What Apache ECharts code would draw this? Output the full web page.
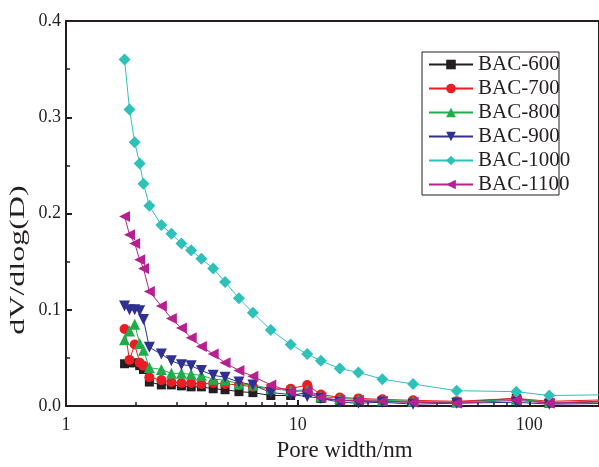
<!DOCTYPE html>
<html>
<head>
<meta charset="utf-8">
<script src="https://cdn.jsdelivr.net/npm/echarts@6/dist/echarts.min.js"></script>
<style>
html,body{margin:0;padding:0;background:#fff}
#main{width:599px;height:467px}
</style>
</head>
<body>
<div id="main"></div>
<script>
// pore width (nm), shared by all samples
var poreWidth = [1.79, 1.88, 1.98, 2.08, 2.16, 2.29, 2.58, 2.85, 3.15, 3.47, 3.84, 4.32, 4.86, 5.58, 6.41, 7.66, 9.33, 11.0, 12.6, 15.2, 18.3, 23.2, 31.5, 48.6, 87.9, 122, 260];

var bac600  = [0.044, 0.045, 0.045, 0.042, 0.038, 0.025, 0.022, 0.022, 0.021, 0.020, 0.020, 0.018, 0.017, 0.015, 0.014, 0.011, 0.011, 0.014, 0.008, 0.006, 0.005, 0.005, 0.004, 0.004, 0.008, 0.003, 0.005];
var bac700  = [0.080, 0.048, 0.064, 0.045, 0.042, 0.030, 0.027, 0.025, 0.024, 0.024, 0.023, 0.024, 0.023, 0.022, 0.020, 0.018, 0.018, 0.022, 0.012, 0.009, 0.008, 0.007, 0.006, 0.005, 0.008, 0.005, 0.007];
var bac800  = [0.069, 0.078, 0.085, 0.065, 0.058, 0.040, 0.038, 0.034, 0.034, 0.033, 0.032, 0.028, 0.027, 0.023, 0.022, 0.018, 0.016, 0.017, 0.010, 0.008, 0.007, 0.006, 0.005, 0.004, 0.007, 0.004, 0.005];
var bac900  = [0.104, 0.100, 0.100, 0.099, 0.090, 0.061, 0.054, 0.047, 0.043, 0.042, 0.037, 0.032, 0.030, 0.025, 0.022, 0.014, 0.012, 0.010, 0.008, 0.004, 0.003, 0.004, 0.002, 0.003, 0.004, 0.002, 0.003];
var bac1000 = [0.360, 0.308, 0.274, 0.252, 0.231, 0.208, 0.188, 0.179, 0.169, 0.162, 0.153, 0.143, 0.129, 0.112, 0.097, 0.079, 0.064, 0.054, 0.047, 0.039, 0.035, 0.028, 0.023, 0.016, 0.015, 0.011, 0.012];
var bac1100 = [0.197, 0.178, 0.169, 0.152, 0.143, 0.119, 0.104, 0.091, 0.081, 0.071, 0.062, 0.054, 0.045, 0.037, 0.031, 0.022, 0.015, 0.016, 0.009, 0.006, 0.006, 0.005, 0.004, 0.003, 0.006, 0.003, 0.006];

var seriesNames = ['BAC-600', 'BAC-700', 'BAC-800', 'BAC-900', 'BAC-1000', 'BAC-1100'];
var xLabelValues = [1, 10, 100];
var xMinorTicks = [2, 3, 4, 5, 6, 7, 8, 9, 20, 30, 40, 50, 60, 70, 80, 90];

var allValues = [bac600, bac700, bac800, bac900, bac1000, bac1100];
var colors = ['#231f20', '#ed1c24', '#1fad4b', '#2e3192', '#2ec1b9', '#b5218e'];
var symbols = ['rect', 'circle', 'triangle', 'triangle', 'diamond', 'triangle'];
var rotates = [0, 0, 0, 180, 0, 90];
var sizes = [9, 10, 11, 11, 12, 11];

var ink = '#231f20';
var font = 'Liberation Serif';

var myChart = echarts.init(document.getElementById('main'));

var series = seriesNames.map(function (name, i) {
	return {
		name: name,
		type: 'line',
		xAxisIndex: 0,
		data: poreWidth.map(function (x, k) { return [x, allValues[i][k]]; }),
		symbol: symbols[i],
		symbolRotate: rotates[i],
		symbolSize: sizes[i],
		showAllSymbol: true,
		clip: true,
		color: colors[i],
		itemStyle: { color: colors[i] },
		lineStyle: { color: colors[i], width: 1 },
		emphasis: { disabled: true },
		animation: false
	};
});

var option = {
	animation: false,
	grid: {
		left: 66, top: 21, right: -3, bottom: 58,
		show: true, borderColor: ink, borderWidth: 2, backgroundColor: 'transparent'
	},
	legend: {
		orient: 'vertical',
		left: 428, top: 54,
		padding: 0,
		itemWidth: 44, itemHeight: 12, itemGap: 3,
		textStyle: { fontFamily: font, fontSize: 21, color: ink },
		data: seriesNames
	},
	xAxis: [{
		type: 'log', logBase: 10, min: 1, max: 200,
		name: 'Pore width/nm', nameLocation: 'middle', nameGap: 30,
		nameTextStyle: { fontFamily: font, fontSize: 23, color: ink, padding: [0, 0, 0, 24] },
		axisLine: { lineStyle: { color: ink, width: 2 } },
		axisTick: { show: true, inside: true, length: 6, lineStyle: { color: ink, width: 2 } },
		axisLabel: { customValues: xLabelValues, margin: 10, fontFamily: font, fontSize: 18, color: ink },
		splitLine: { show: false },
		minorTick: { show: false }
	}, {
		// minor ticks at 2..9, 20..90
		type: 'log', logBase: 10, min: 1, max: 200, position: 'bottom',
		axisLine: { show: false },
		axisTick: { show: true, inside: true, length: 4, customValues: xMinorTicks, lineStyle: { color: ink, width: 1.5 } },
		axisLabel: { show: false },
		splitLine: { show: false }
	}],
	yAxis: {
		type: 'value', min: 0, max: 0.4, interval: 0.1,
		axisLine: { show: true, lineStyle: { color: ink, width: 2 } },
		axisTick: { show: true, inside: true, length: 6, lineStyle: { color: ink, width: 2 } },
		minorTick: { show: true, splitNumber: 2, length: 4, lineStyle: { color: ink, width: 1.5 } },
		axisLabel: { margin: 5, fontFamily: font, fontSize: 18, color: ink, formatter: function (v) { return v.toFixed(1); } },
		splitLine: { show: false }
	},
	graphic: [{
		type: 'rect',
		shape: { x: 422, y: 52, width: 137, height: 143 },
		style: { fill: 'none', stroke: ink, lineWidth: 1 },
		silent: true
	}, {
		type: 'text',
		x: 19, y: 260,
		rotation: Math.PI / 2,
		scaleX: 1.6,
		style: { text: 'dV/dlog(D)', font: '20px "Liberation Serif"', fill: ink, align: 'center', verticalAlign: 'middle' },
		silent: true
	}],
	series: series
};

myChart.setOption(option);
window.onresize = myChart.resize;
</script>
</body>
</html>
